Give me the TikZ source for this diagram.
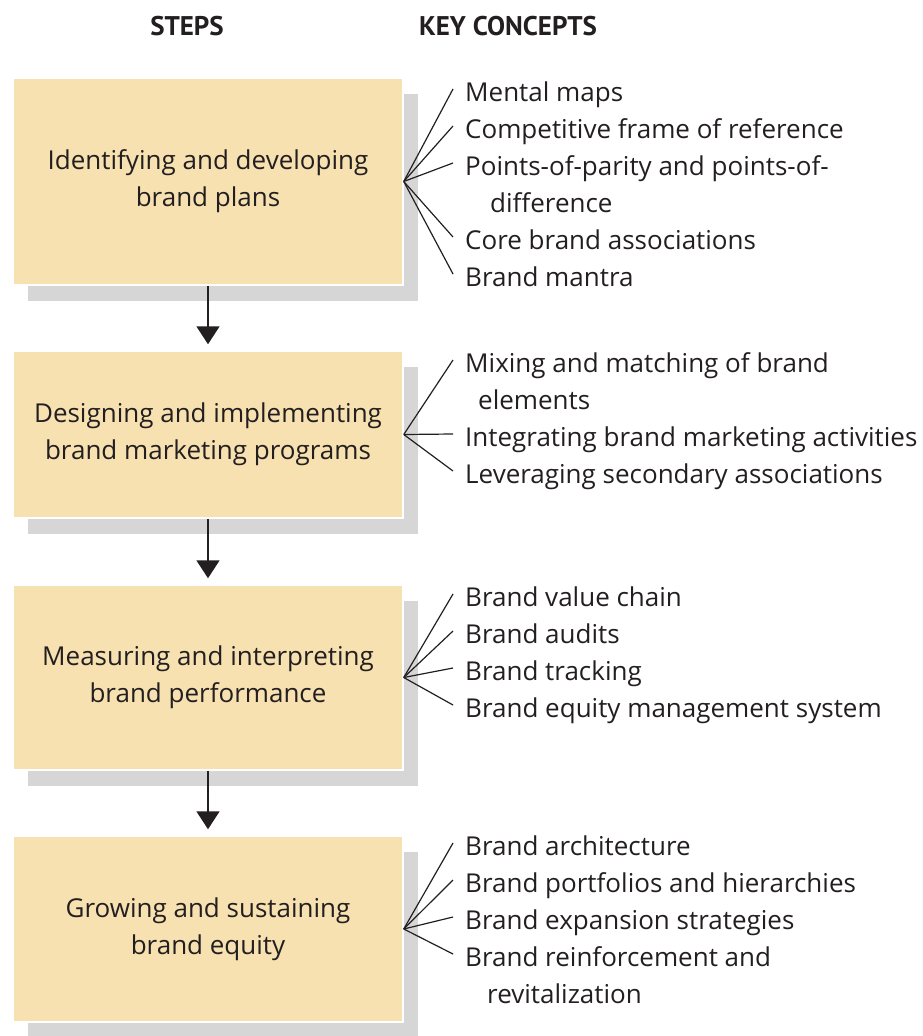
\documentclass[tikz,border=0pt]{standalone}
\usepackage{fontspec}
\setmainfont{Open Sans}
\newfontfamily\headfont{PT Sans}
\usetikzlibrary{arrows.meta,shadows,calc}
\definecolor{boxfill}{RGB}{247,225,177}
\definecolor{shadowgray}{RGB}{214,214,214}
\definecolor{ink}{RGB}{35,31,32}
\begin{document}
\begin{tikzpicture}[x=1pt,y=-1pt,
  stepbox/.style={rectangle, fill=boxfill, draw=white, line width=1.5pt,
    minimum width=390pt, align=center, text=ink, inner sep=0pt,
    font=\fontsize{26}{37}\selectfont,
    drop shadow={shadow xshift=15pt, shadow yshift=-16pt, fill=shadowgray, opacity=1}},
  item/.style={anchor=base west, inner sep=0pt, align=left, text=ink,
    font=\fontsize{26}{37}\selectfont},
  head/.style={anchor=base, inner sep=0pt, text=ink, font=\headfont\bfseries\fontsize{27}{30}\selectfont},
  fan/.style={draw=ink, line width=1.2pt},
  flow/.style={draw=ink, line width=1.8pt, -{Triangle[length=18pt,width=23pt]}, shorten >=6pt}
]
\useasboundingbox (0,0) rectangle (923,1036);

% headers
\node[head] (hsteps) at (187,35) {STEPS};
\node[head] (hkey) at (508,35) {KEY CONCEPTS};

% step boxes
\node[stepbox, minimum height=207pt] (b1) at (208,181.5) {Identifying and developing\\brand plans};
\node[stepbox, minimum height=167pt] (b2) at (208,434.5) {Designing and implementing\\brand marketing programs};
\node[stepbox, minimum height=185pt] (b3) at (208,677.5) {Measuring and interpreting\\brand performance};
\node[stepbox, minimum height=186pt] (b4) at (208,929) {Growing and sustaining\\brand equity};

% flow arrows
\draw[flow] (b1.south) -- (b2.north);
\draw[flow] (b2.south) -- (b3.north);
\draw[flow] (b3.south) -- (b4.north);

% key concepts (multi-line nodes are placed by the baseline of their last line)
\node[item] (c11) at (465,101) {Mental maps};
\node[item] (c12) at (465,138) {Competitive frame of reference};
\node[item] (c13) at (465,212) {Points-of-parity and points-of-\\\hspace*{25pt}difference};
\node[item] (c14) at (465,249) {Core brand associations};
\node[item] (c15) at (465,286) {Brand mantra};

\node[item] (c21) at (465,409) {Mixing and matching of brand\\\hspace*{13pt}elements};
\node[item] (c22) at (465,446) {Integrating brand marketing activities};
\node[item] (c23) at (465,483) {Leveraging secondary associations};

\node[item] (c31) at (465,606) {Brand value chain};
\node[item] (c32) at (465,643) {Brand audits};
\node[item] (c33) at (465,680) {Brand tracking};
\node[item] (c34) at (465,717) {Brand equity management system};

\node[item] (c41) at (465,855) {Brand architecture};
\node[item] (c42) at (465,892) {Brand portfolios and hierarchies};
\node[item] (c43) at (465,929) {Brand expansion strategies};
\node[item] (c44) at (465,1003) {Brand reinforcement and\\\hspace*{22pt}revitalization};

% fans
\foreach \c in {c11,c12,c14,c15}
  \draw[fan] (b1.east) -- ($(\c.base west)+(-12,-12)$);
\draw[fan] (b1.east) -- ($(c13.base west)+(-12,-49)$);
\draw[fan] (b2.east) -- ($(c21.base west)+(-12,-49)$);
\foreach \c in {c22,c23}
  \draw[fan] (b2.east) -- ($(\c.base west)+(-12,-12)$);
\foreach \c in {c31,c32,c33,c34}
  \draw[fan] (b3.east) -- ($(\c.base west)+(-12,-12)$);
\foreach \c in {c41,c42,c43}
  \draw[fan] (b4.east) -- ($(\c.base west)+(-12,-12)$);
\draw[fan] (b4.east) -- ($(c44.base west)+(-12,-49)$);
\end{tikzpicture}
\end{document}
